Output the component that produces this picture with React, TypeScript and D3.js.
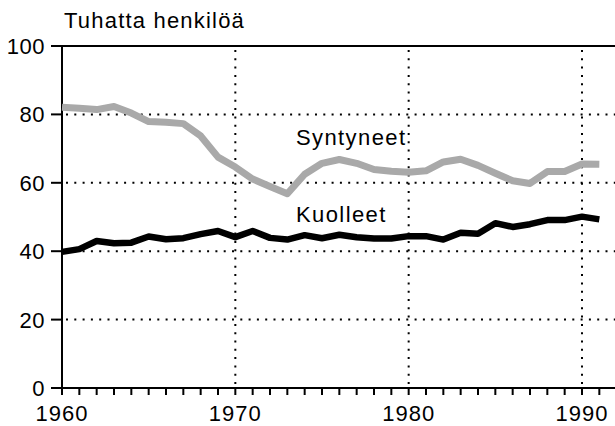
import React, { useEffect, useRef } from 'react';
import * as d3 from 'd3';

// Suomen väestö: syntyneet ja kuolleet, tuhatta henkilöä
const years = d3.range(1960, 1992);
const syntyneet = [
  82.1, 81.8, 81.4, 82.3, 80.4, 77.9, 77.7, 77.3, 73.7, 67.5,
  64.6, 61.1, 58.9, 56.8, 62.5, 65.7, 66.8, 65.7, 63.9, 63.4,
  63.1, 63.5, 66.1, 66.9, 65.1, 62.8, 60.6, 59.8, 63.3, 63.3,
  65.5, 65.4,
];
const kuolleet = [
  39.8, 40.6, 43.0, 42.3, 42.5, 44.3, 43.5, 43.8, 45.0, 45.9,
  44.1, 45.9, 43.9, 43.4, 44.7, 43.8, 44.8, 44.1, 43.7, 43.7,
  44.4, 44.4, 43.4, 45.4, 45.1, 48.2, 47.1, 47.9, 49.1, 49.1,
  50.1, 49.3,
];
const yTicks = [0, 20, 40, 60, 80, 100];
const xTickLabels = [1960, 1970, 1980, 1990];
const gridYears = [1970, 1980, 1990];

const W = 615;
const H = 426;

export default function App() {
  const svgRef = useRef<SVGSVGElement | null>(null);

  useEffect(() => {
    const svg = d3.select(svgRef.current);
    svg.selectAll('*').remove();

    const font = '"Liberation Sans", Arial, Helvetica, sans-serif';
    const left = 62;
    const x = d3.scaleLinear().domain([1960, 1990]).range([left, 582]);
    const y = d3.scaleLinear().domain([0, 100]).range([388, 46]);

    // vaakasuorat pisteviivat
    svg.append('g')
      .selectAll('line')
      .data(yTicks.filter(d => d > 0 && d < 100))
      .join('line')
      .attr('x1', left + 4)
      .attr('x2', W)
      .attr('y1', d => y(d))
      .attr('y2', d => y(d))
      .attr('stroke', '#000')
      .attr('stroke-width', 2)
      .attr('stroke-dasharray', '2,6.3');

    // pystysuorat pisteviivat
    svg.append('g')
      .selectAll('line')
      .data(gridYears)
      .join('line')
      .attr('x1', d => x(d))
      .attr('x2', d => x(d))
      .attr('y1', y(100) + 4)
      .attr('y2', y(0))
      .attr('stroke', '#000')
      .attr('stroke-width', 2)
      .attr('stroke-dasharray', '2,6.3');

    // yläreuna
    svg.append('line')
      .attr('x1', left - 11).attr('x2', W)
      .attr('y1', y(100)).attr('y2', y(100))
      .attr('stroke', '#000').attr('stroke-width', 2);

    // y-akseli
    svg.append('line')
      .attr('x1', left).attr('x2', left)
      .attr('y1', y(100)).attr('y2', y(0))
      .attr('stroke', '#000').attr('stroke-width', 2);

    svg.append('g')
      .selectAll('line')
      .data(yTicks)
      .join('line')
      .attr('x1', left - 11).attr('x2', left)
      .attr('y1', d => y(d)).attr('y2', d => y(d))
      .attr('stroke', '#000').attr('stroke-width', 2);

    svg.append('g')
      .selectAll('text')
      .data(yTicks)
      .join('text')
      .attr('x', 45)
      .attr('y', d => y(d) + 8)
      .attr('text-anchor', 'end')
      .attr('font-family', font)
      .attr('font-size', 22)
      .attr('letter-spacing', 0.5)
      .text(d => d);

    // x-akseli
    svg.append('line')
      .attr('x1', left).attr('x2', W)
      .attr('y1', y(0)).attr('y2', y(0))
      .attr('stroke', '#000').attr('stroke-width', 2);

    svg.append('g')
      .selectAll('line')
      .data(years)
      .join('line')
      .attr('x1', d => x(d)).attr('x2', d => x(d))
      .attr('y1', y(0)).attr('y2', y(0) + 7)
      .attr('stroke', '#000').attr('stroke-width', 2);

    svg.append('g')
      .selectAll('text')
      .data(xTickLabels)
      .join('text')
      .attr('x', d => x(d))
      .attr('y', 421)
      .attr('text-anchor', 'middle')
      .attr('font-family', font)
      .attr('font-size', 22)
      .attr('letter-spacing', 1)
      .text(d => d);

    // sarjat
    const line = d3.line<number>()
      .x((_, i) => x(years[i]))
      .y(d => y(d));

    svg.append('path')
      .datum(syntyneet)
      .attr('d', line)
      .attr('fill', 'none')
      .attr('stroke', '#a9a9a9')
      .attr('stroke-width', 7)
      .attr('stroke-linejoin', 'round');

    svg.append('path')
      .datum(kuolleet)
      .attr('d', line)
      .attr('fill', 'none')
      .attr('stroke', '#000')
      .attr('stroke-width', 6.5)
      .attr('stroke-linejoin', 'round');

    // tekstit
    svg.append('text')
      .attr('x', 64).attr('y', 28)
      .attr('font-family', font).attr('font-size', 22)
      .attr('letter-spacing', 1.2)
      .text('Tuhatta henkilöä');

    svg.append('text')
      .attr('x', 296).attr('y', 145)
      .attr('font-family', font).attr('font-size', 22)
      .attr('letter-spacing', 1.4)
      .text('Syntyneet');

    svg.append('text')
      .attr('x', 296).attr('y', 222)
      .attr('font-family', font).attr('font-size', 22)
      .attr('letter-spacing', 1.4)
      .text('Kuolleet');
  }, []);

  return (
    <div style={{ position: 'fixed', left: 0, top: 0, width: W, height: H, background: '#fff' }}>
      <svg ref={svgRef} width={W} height={H} style={{ display: 'block' }} />
    </div>
  );
}
